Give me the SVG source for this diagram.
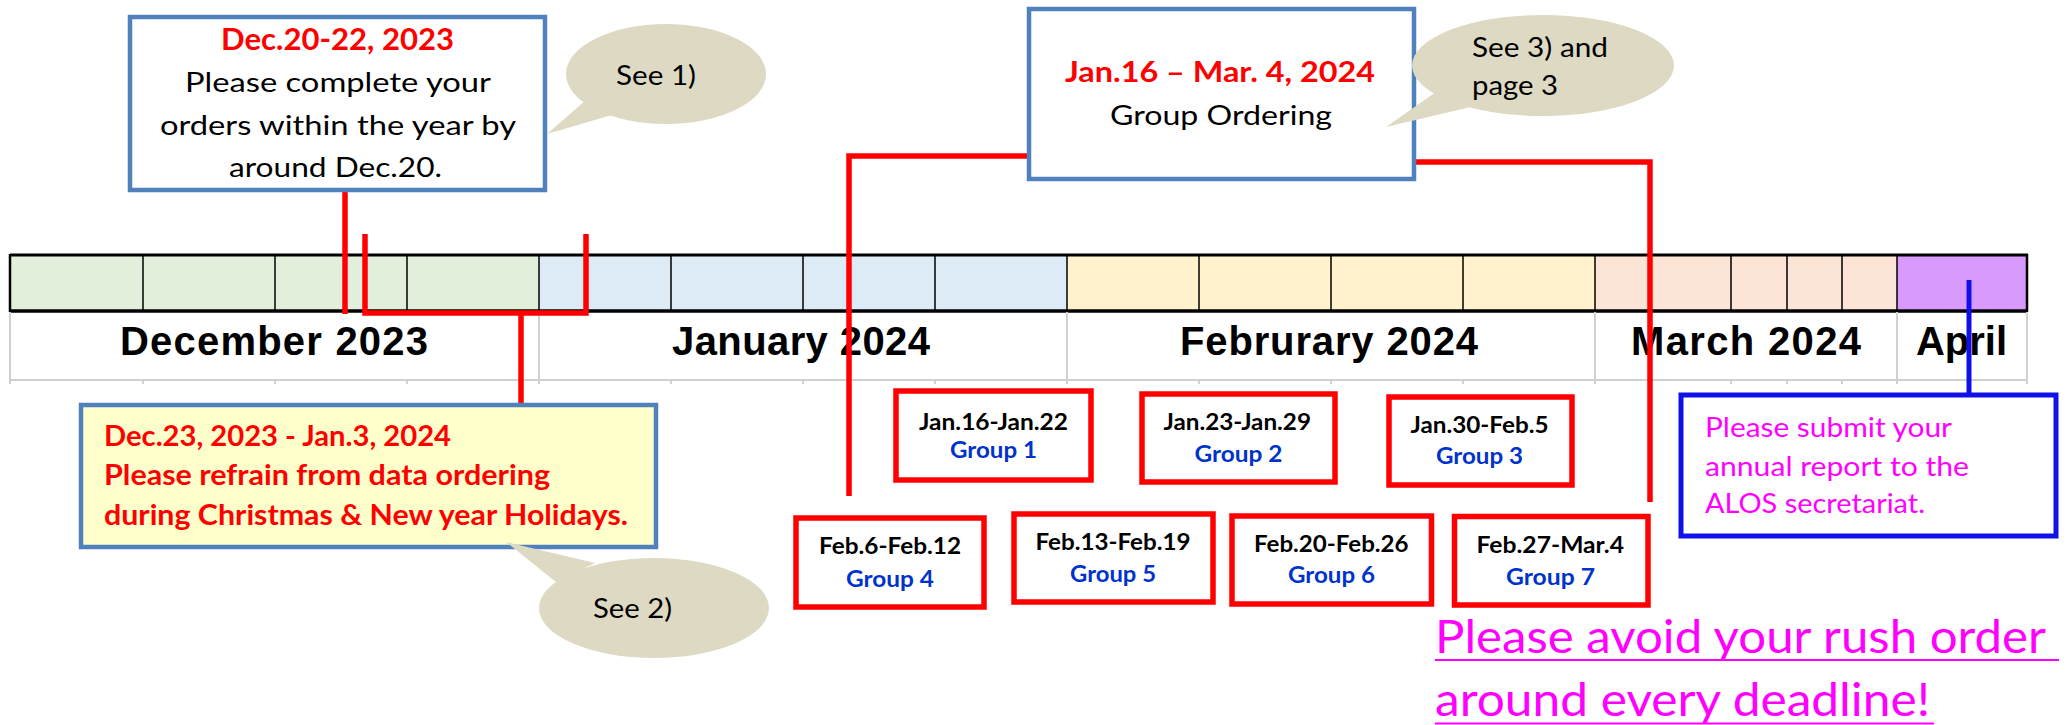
<svg xmlns="http://www.w3.org/2000/svg" width="2069" height="725" viewBox="0 0 2069 725">
<style>
.cal{font-family:Lato,"Liberation Sans",sans-serif}
.b{font-weight:bold}
.red{fill:#FF0000}
.blk{fill:#000}
.gblue{fill:#0033CC}
.mag{fill:#FF00FF}
.month{font-family:"Liberation Sans",Arial,sans-serif;font-weight:bold;font-size:40px;fill:#000}
.conn{fill:none;stroke:#FF0000;stroke-width:5.5}
.gbox{fill:#fff;stroke:#FF0000;stroke-width:5.5}
.callout{stroke:#4F81BD;stroke-width:4.5}
.bubble{fill:#DDD9C3}
.div{stroke:#000;stroke-width:1.5}
.grid{stroke:#D0D0D0;stroke-width:2}
</style>

<!-- timeline bar -->
<g id="timeline">
  <rect x="10" y="255" width="529" height="56" fill="#E2EFDA"/>
  <rect x="539" y="255" width="528" height="56" fill="#DDEBF7"/>
  <rect x="1067" y="255" width="528" height="56" fill="#FFF2CC"/>
  <rect x="1595" y="255" width="302" height="56" fill="#FCE4D6"/>
  <rect x="1897" y="255" width="130" height="56" fill="#D99AFD"/>
  <g class="div">
    <line x1="143" y1="255" x2="143" y2="311"/>
    <line x1="275" y1="255" x2="275" y2="311"/>
    <line x1="407" y1="255" x2="407" y2="311"/>
    <line x1="539" y1="255" x2="539" y2="311"/>
    <line x1="671" y1="255" x2="671" y2="311"/>
    <line x1="803" y1="255" x2="803" y2="311"/>
    <line x1="935" y1="255" x2="935" y2="311"/>
    <line x1="1067" y1="255" x2="1067" y2="311"/>
    <line x1="1199" y1="255" x2="1199" y2="311"/>
    <line x1="1331" y1="255" x2="1331" y2="311"/>
    <line x1="1463" y1="255" x2="1463" y2="311"/>
    <line x1="1595" y1="255" x2="1595" y2="311"/>
    <line x1="1731" y1="255" x2="1731" y2="311"/>
    <line x1="1787" y1="255" x2="1787" y2="311"/>
    <line x1="1842" y1="255" x2="1842" y2="311"/>
    <line x1="1897" y1="255" x2="1897" y2="311"/>
  </g>
  <line x1="10" y1="255" x2="2028" y2="255" stroke="#000" stroke-width="3"/>
  <line x1="10" y1="311" x2="2028" y2="311" stroke="#000" stroke-width="3.5"/>
  <line x1="10" y1="254" x2="10" y2="312" stroke="#000" stroke-width="2.5"/>
  <line x1="2027" y1="254" x2="2027" y2="312" stroke="#000" stroke-width="2.5"/>
  <!-- grid below -->
  <g class="grid">
    <line x1="10" y1="380" x2="2028" y2="380"/>
    <line x1="10" y1="312" x2="10" y2="384"/>
    <line x1="539" y1="312" x2="539" y2="384"/>
    <line x1="1067" y1="312" x2="1067" y2="384"/>
    <line x1="1595" y1="312" x2="1595" y2="384"/>
    <line x1="1897" y1="312" x2="1897" y2="384"/>
    <line x1="2027" y1="312" x2="2027" y2="384"/>
    <line x1="143" y1="379" x2="143" y2="384"/>
    <line x1="275" y1="379" x2="275" y2="384"/>
    <line x1="407" y1="379" x2="407" y2="384"/>
    <line x1="671" y1="379" x2="671" y2="384"/>
    <line x1="803" y1="379" x2="803" y2="384"/>
    <line x1="935" y1="379" x2="935" y2="384"/>
    <line x1="1199" y1="379" x2="1199" y2="384"/>
    <line x1="1331" y1="379" x2="1331" y2="384"/>
    <line x1="1463" y1="379" x2="1463" y2="384"/>
    <line x1="1731" y1="379" x2="1731" y2="384"/>
    <line x1="1787" y1="379" x2="1787" y2="384"/>
    <line x1="1842" y1="379" x2="1842" y2="384"/>
  </g>
  <text class="month" x="120" y="355" textLength="308" lengthAdjust="spacing">December 2023</text>
  <text class="month" x="672" y="355" textLength="258" lengthAdjust="spacing">January 2024</text>
  <text class="month" x="1180" y="355" textLength="298" lengthAdjust="spacing">Februrary 2024</text>
  <text class="month" x="1631" y="355" textLength="230" lengthAdjust="spacing">March 2024</text>
  <text class="month" x="1916" y="355" textLength="91" lengthAdjust="spacing">April</text>
</g>

<!-- connectors -->
<g id="connectors">
  <line class="conn" x1="345" y1="190" x2="345" y2="314"/>
  <polyline class="conn" points="365,234 365,313 586,313 586,234"/>
  <line class="conn" x1="521" y1="313" x2="521" y2="405"/>
  <polyline class="conn" points="1029,156 849,156 849,496"/>
  <polyline class="conn" points="1414,162 1650,162 1650,502"/>
  <line x1="1969" y1="280" x2="1969" y2="396" stroke="#1010E8" stroke-width="5"/>
</g>

<!-- Dec callout -->
<g id="dec-callout">
  <rect class="callout" x="130" y="17" width="415" height="173" fill="#fff"/>
  <text class="cal b red" x="221" y="50" font-size="31" textLength="233" lengthAdjust="spacingAndGlyphs">Dec.20-22, 2023</text>
  <text class="cal blk" x="185" y="92" font-size="26" textLength="306" lengthAdjust="spacingAndGlyphs">Please complete your</text>
  <text class="cal blk" x="160" y="135" font-size="26" textLength="356" lengthAdjust="spacingAndGlyphs">orders within the year by</text>
  <text class="cal blk" x="229" y="177" font-size="26" textLength="213" lengthAdjust="spacingAndGlyphs">around Dec.20.</text>
</g>

<!-- bubble 1 -->
<g id="bubble-1">
  <ellipse class="bubble" cx="666" cy="74" rx="100" ry="50"/>
  <polygon class="bubble" points="586,100 547,134 615,114"/>
  <text class="cal blk" x="616" y="85" font-size="27" textLength="80" lengthAdjust="spacingAndGlyphs">See 1)</text>
</g>

<!-- Group ordering callout -->
<g id="group-callout">
  <rect class="callout" x="1029" y="9" width="385" height="170" fill="#fff"/>
  <text class="cal b red" x="1065" y="82" font-size="29" textLength="310" lengthAdjust="spacingAndGlyphs">Jan.16 – Mar. 4, 2024</text>
  <text class="cal blk" x="1110" y="125" font-size="27" textLength="222" lengthAdjust="spacingAndGlyphs">Group Ordering</text>
</g>

<!-- bubble 3 -->
<g id="bubble-3">
  <ellipse class="bubble" cx="1543" cy="65.5" rx="131" ry="50.5"/>
  <polygon class="bubble" points="1436,92 1386,127 1475,106"/>
  <text class="cal blk" x="1472" y="57" font-size="27" textLength="136" lengthAdjust="spacingAndGlyphs">See 3) and</text>
  <text class="cal blk" x="1472" y="95" font-size="27" textLength="86" lengthAdjust="spacingAndGlyphs">page 3</text>
</g>

<!-- Holiday callout -->
<g id="holiday-callout">
  <rect class="callout" x="81" y="405" width="575" height="142" fill="#FFFFCC"/>
  <text class="cal b red" x="104" y="446" font-size="28" textLength="347" lengthAdjust="spacingAndGlyphs">Dec.23, 2023 - Jan.3, 2024</text>
  <text class="cal b red" x="104" y="485" font-size="28" textLength="446" lengthAdjust="spacingAndGlyphs">Please refrain from data ordering</text>
  <text class="cal b red" x="104" y="524.5" font-size="28" textLength="524" lengthAdjust="spacingAndGlyphs">during Christmas &amp; New year Holidays.</text>
</g>

<!-- bubble 2 -->
<g id="bubble-2">
  <ellipse class="bubble" cx="654" cy="608" rx="115" ry="50"/>
  <polygon class="bubble" points="506,542 556,582 595,563"/>
  <text class="cal blk" x="593" y="618" font-size="27" textLength="79" lengthAdjust="spacingAndGlyphs">See 2)</text>
</g>

<!-- group boxes -->
<g id="group-1">
  <rect class="gbox" x="896" y="391" width="195" height="89"/>
  <text class="cal b blk" x="919" y="430" font-size="23.5" textLength="149" lengthAdjust="spacingAndGlyphs">Jan.16-Jan.22</text>
  <text class="cal b gblue" x="950" y="458" font-size="22.5" textLength="87" lengthAdjust="spacingAndGlyphs">Group 1</text>
</g>
<g id="group-2">
  <rect class="gbox" x="1142" y="394" width="193" height="88"/>
  <text class="cal b blk" x="1163.5" y="430" font-size="23.5" textLength="147.5" lengthAdjust="spacingAndGlyphs">Jan.23-Jan.29</text>
  <text class="cal b gblue" x="1194.5" y="461.5" font-size="22.5" textLength="88" lengthAdjust="spacingAndGlyphs">Group 2</text>
</g>
<g id="group-3">
  <rect class="gbox" x="1389" y="397" width="183" height="88"/>
  <text class="cal b blk" x="1410.5" y="432.5" font-size="23.5" textLength="138" lengthAdjust="spacingAndGlyphs">Jan.30-Feb.5</text>
  <text class="cal b gblue" x="1436" y="464" font-size="22.5" textLength="87" lengthAdjust="spacingAndGlyphs">Group 3</text>
</g>
<g id="group-4">
  <rect class="gbox" x="796" y="518" width="188" height="89"/>
  <text class="cal b blk" x="819" y="554" font-size="23.5" textLength="142" lengthAdjust="spacingAndGlyphs">Feb.6-Feb.12</text>
  <text class="cal b gblue" x="846" y="586.5" font-size="22.5" textLength="88" lengthAdjust="spacingAndGlyphs">Group 4</text>
</g>
<g id="group-5">
  <rect class="gbox" x="1014" y="514" width="199" height="88"/>
  <text class="cal b blk" x="1035.5" y="550" font-size="23.5" textLength="155" lengthAdjust="spacingAndGlyphs">Feb.13-Feb.19</text>
  <text class="cal b gblue" x="1070" y="582" font-size="22.5" textLength="86" lengthAdjust="spacingAndGlyphs">Group 5</text>
</g>
<g id="group-6">
  <rect class="gbox" x="1232" y="516" width="199.5" height="88"/>
  <text class="cal b blk" x="1254" y="551.5" font-size="23.5" textLength="154.5" lengthAdjust="spacingAndGlyphs">Feb.20-Feb.26</text>
  <text class="cal b gblue" x="1288" y="583" font-size="22.5" textLength="87" lengthAdjust="spacingAndGlyphs">Group 6</text>
</g>
<g id="group-7">
  <rect class="gbox" x="1454.5" y="516.5" width="193.5" height="88.5"/>
  <text class="cal b blk" x="1476.5" y="552.5" font-size="23.5" textLength="147.5" lengthAdjust="spacingAndGlyphs">Feb.27-Mar.4</text>
  <text class="cal b gblue" x="1506" y="585" font-size="22.5" textLength="89" lengthAdjust="spacingAndGlyphs">Group 7</text>
</g>

<!-- annual report box -->
<g id="annual-report">
  <rect x="1681" y="395" width="375" height="141" fill="#fff" stroke="#1010E8" stroke-width="5"/>
  <text class="cal mag" x="1705" y="436.5" font-size="27" textLength="247" lengthAdjust="spacingAndGlyphs">Please submit your</text>
  <text class="cal mag" x="1705" y="475.5" font-size="27" textLength="264" lengthAdjust="spacingAndGlyphs">annual report to the</text>
  <text class="cal mag" x="1705" y="513" font-size="27" textLength="220" lengthAdjust="spacingAndGlyphs">ALOS secretariat.</text>
</g>

<!-- rush order note -->
<g id="rush-note">
  <text class="cal mag" x="1435" y="653" font-size="46" textLength="611" lengthAdjust="spacingAndGlyphs">Please avoid your rush order</text>
  <line x1="1435" y1="660" x2="2059" y2="660" stroke="#FF00FF" stroke-width="2.2"/>
  <text class="cal mag" x="1435" y="716" font-size="46" textLength="495" lengthAdjust="spacingAndGlyphs">around every deadline!</text>
  <line x1="1435" y1="723.5" x2="1934" y2="723.5" stroke="#FF00FF" stroke-width="2.2"/>
</g>
</svg>
